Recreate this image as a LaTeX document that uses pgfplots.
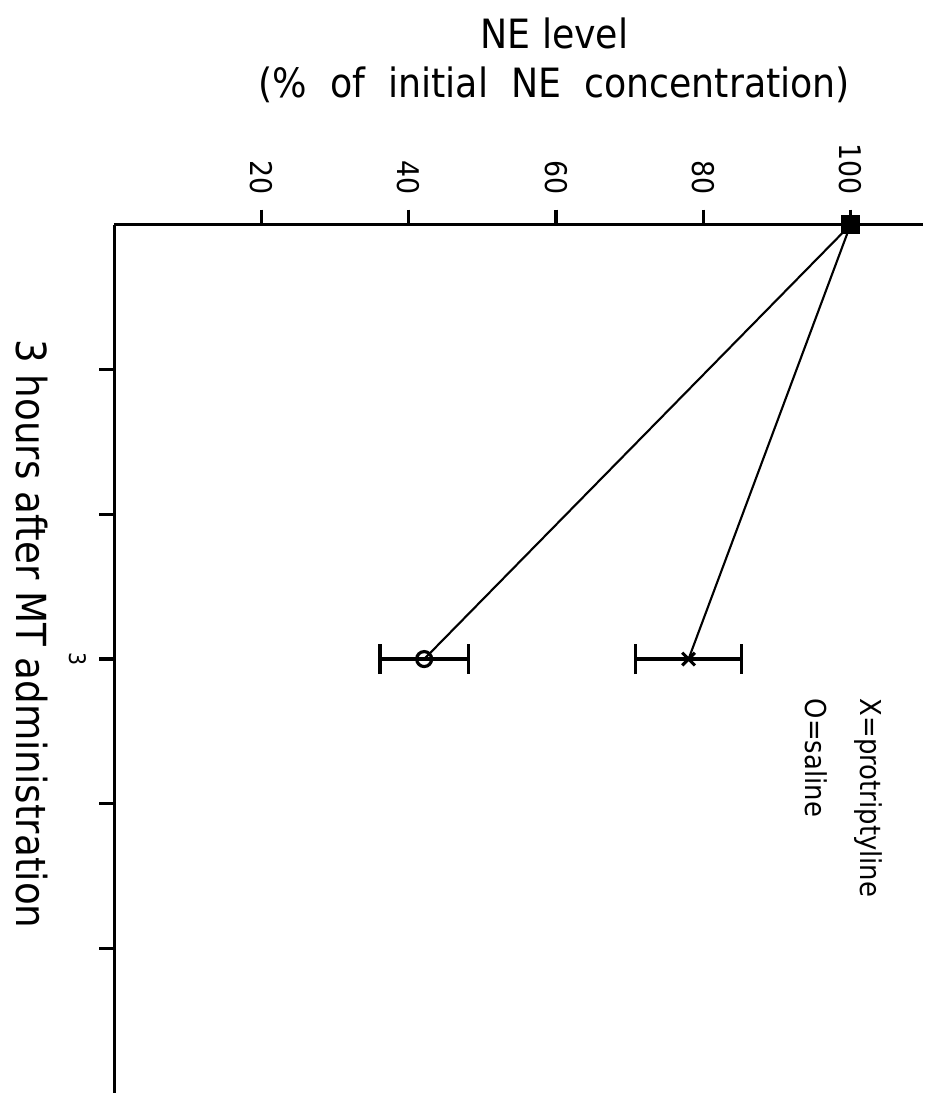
\documentclass[border=0pt]{standalone}
\usepackage{fontspec}
\setmainfont{DejaVu Sans Condensed}
\usepackage{pgfplots}
\pgfplotsset{compat=1.18}
\begin{document}
\begin{tikzpicture}
\begin{axis}[
  x=0.7375mm, y=14.5mm,
  xmin=0, xmax=109.9, ymin=0, ymax=6,
  y dir=reverse,
  axis x line*=top,
  axis y line*=left,
  axis line style={line width=0.9pt, black},
  clip=false,
  tick align=outside,
  major tick length=1.5mm,
  xtick={20,40,60,80,100},
  ytick={1,2,3,4,5},
  yticklabels={,,3,,},
  every tick/.style={line width=0.9pt, black},
  /pgf/number format/assume math mode=true,
  xticklabel style={rotate=-90, anchor=east, inner sep=4pt, font=\fontsize{8.5}{10}\selectfont},
  yticklabel style={rotate=-90, anchor=north, font=\fontsize{6.5}{7}\selectfont},
  ylabel={3 hours after MT administration},
  ylabel style={rotate=180, at={(axis description cs:-0.102,0.529)}, anchor=center,
    font=\fontsize{11.8}{14}\selectfont},
  title={NE level\\(\% \ of \ initial \ NE \ concentration)},
  title style={align=center, at={(axis description cs:0.544,1)}, anchor=south,
    inner sep=0pt, yshift=10mm, font=\fontsize{11.5}{14}\selectfont},
]
% canvas extent
\path (axis cs:-15.5,-1.552) rectangle (axis cs:109.9,6.0);

% protriptyline
\addplot[black, line width=0.6pt, mark=x, mark size=0.9mm, mark indices={2},
  mark options={line width=0.9pt}]
  coordinates {(100,0) (78,3)};
\addplot[black, draw=none, forget plot,
  error bars/.cd, x dir=both, x explicit, error mark=|,
  error bar style={line width=0.9pt},
  error mark options={mark size=1.5mm, line width=0.9pt}]
  coordinates {(78,3) +- (7.2,0)};

% saline
\addplot[black, line width=0.6pt, mark=o, mark size=0.75mm, mark indices={2},
  mark options={line width=0.9pt}]
  coordinates {(100,0) (42.1,3)};
\addplot[black, draw=none, forget plot,
  error bars/.cd, x dir=both, x explicit, error mark=|,
  error bar style={line width=0.9pt},
  error mark options={mark size=1.5mm, line width=0.9pt}]
  coordinates {(42.1,3) +- (6,0)};

% initial value
\addplot[only marks, mark=square*, mark size=0.9mm, black] coordinates {(100,0)};

\node[rotate=-90, anchor=west, inner sep=0pt, font=\fontsize{8.2}{9}\selectfont]
  at (axis cs:102.4,3.27) {X=protriptyline};
\node[rotate=-90, anchor=west, inner sep=0pt, font=\fontsize{8.2}{9}\selectfont]
  at (axis cs:95.4,3.27) {O=saline};
\end{axis}
\end{tikzpicture}
\end{document}
